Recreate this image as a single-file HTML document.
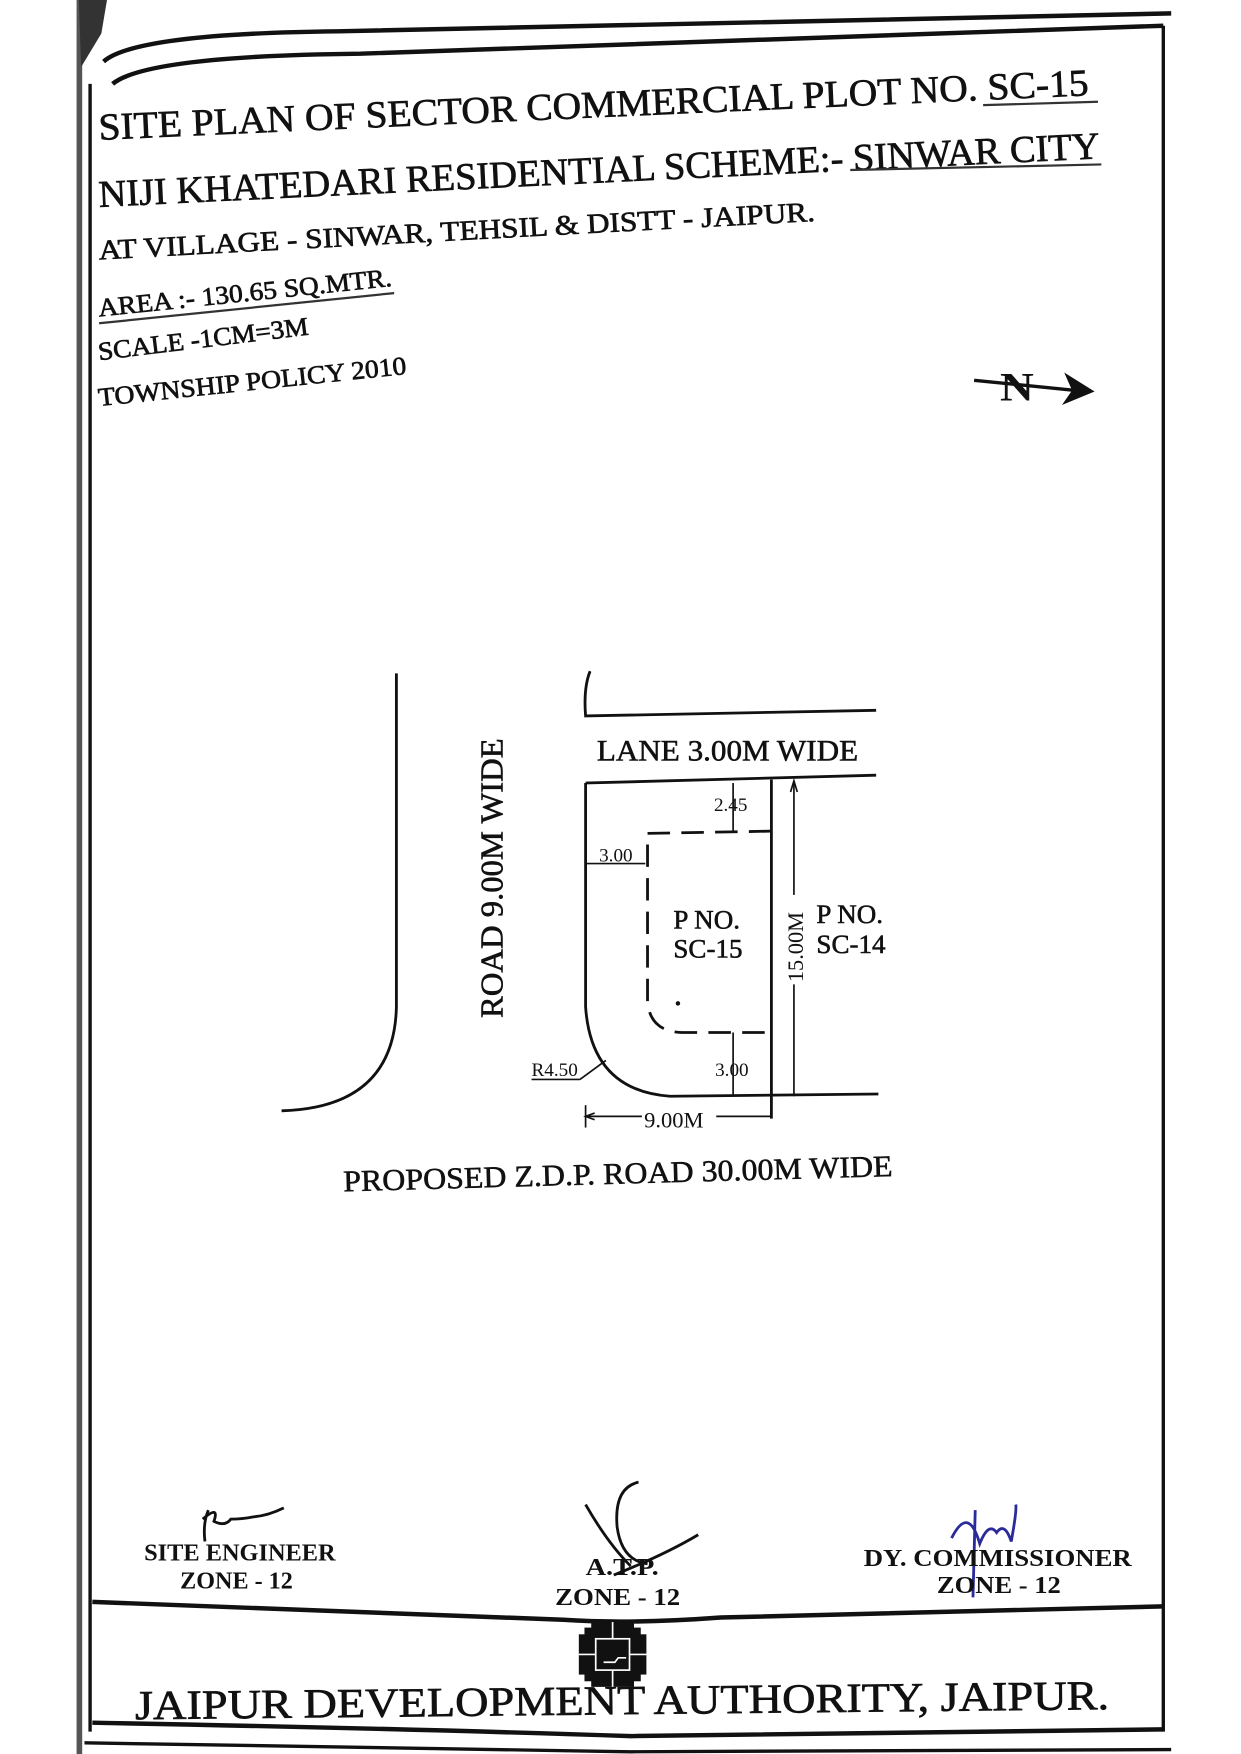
<!DOCTYPE html>
<html><head><meta charset="utf-8"><style>
html,body{margin:0;padding:0;background:#fff;}
svg{display:block;}
text{font-family:"Liberation Serif",serif;fill:#111;}
</style></head><body>
<svg width="1241" height="1754" viewBox="0 0 1102 1568" preserveAspectRatio="none" xmlns="http://www.w3.org/2000/svg">
<rect width="1102" height="1568" fill="#fff"/>
<rect x="68" y="0" width="5" height="1568" fill="#555"/>
<path d="M70 0 L95 0 L90 30 L72 60 Z" fill="#333"/>
<path d="M92 55 Q120 30 300 28 L1040 12" fill="none" stroke="#111" stroke-width="4"/>
<path d="M100 75 Q130 50 320 48 L1033 23" fill="none" stroke="#111" stroke-width="4"/>
<line x1="80" y1="75" x2="80" y2="1548" stroke="#111" stroke-width="3"/>
<line x1="1033" y1="23" x2="1033" y2="1548" stroke="#111" stroke-width="3"/>
<path d="M82 1432 Q300 1440 500 1448 Q560 1452 640 1446 L1033 1436" fill="none" stroke="#111" stroke-width="4"/>
<path d="M82 1540 Q350 1545 560 1552 L1033 1546" fill="none" stroke="#111" stroke-width="4"/>
<path d="M75 1558 Q300 1562 560 1566 L1040 1564" fill="none" stroke="#111" stroke-width="3"/>

<g stroke="#111" stroke-width="0.6">
<g transform="rotate(-2.6 88 125)"><text x="88" y="125" font-size="34" textLength="880" lengthAdjust="spacingAndGlyphs">SITE PLAN OF SECTOR COMMERCIAL PLOT NO.  SC-15</text></g>
<g transform="rotate(-2.8 88 185)"><text x="88" y="185" font-size="34" textLength="890" lengthAdjust="spacingAndGlyphs">NIJI KHATEDARI RESIDENTIAL SCHEME:- SINWAR CITY</text></g>
<g transform="rotate(-3.1 88 232)"><text x="88" y="232" font-size="25" textLength="637" lengthAdjust="spacingAndGlyphs">AT VILLAGE - SINWAR, TEHSIL &amp; DISTT - JAIPUR.</text></g>
<g transform="rotate(-6 88 283)"><text x="88" y="283" font-size="23" textLength="262" lengthAdjust="spacingAndGlyphs">AREA :- 130.65 SQ.MTR.</text></g>
<g transform="rotate(-7 88 322)"><text x="88" y="322" font-size="23" textLength="188" lengthAdjust="spacingAndGlyphs">SCALE -1CM=3M</text></g>
<g transform="rotate(-6 88 363)"><text x="88" y="363" font-size="23" textLength="275" lengthAdjust="spacingAndGlyphs">TOWNSHIP POLICY 2010</text></g>
</g>
<line x1="873" y1="94" x2="975" y2="91" stroke="#333" stroke-width="2"/>
<line x1="755" y1="152" x2="978" y2="147" stroke="#333" stroke-width="2"/>
<line x1="88" y1="289" x2="350" y2="262" stroke="#333" stroke-width="2"/>
<text x="888" y="358" font-size="36" font-weight="bold" textLength="30" lengthAdjust="spacingAndGlyphs">N</text>
<line x1="865" y1="340" x2="955" y2="349" stroke="#111" stroke-width="3"/>
<path d="M945 333 L972 350 L943 362 L952 349 Z" fill="#111"/>

<g fill="none" stroke="#111" stroke-width="2.5">
<path d="M352 602 L352 900 Q350 990 250 993"/>
<path d="M524 600 Q518 615 520 640 L778 635"/>
<path d="M520 700 L778 693"/>
<path d="M520 700 L520 900 Q525 975 595 980 L780 978"/>
<line x1="685" y1="697" x2="685" y2="1000"/>
<g stroke-width="1.5">
<line x1="705" y1="698" x2="705" y2="800"/>
<line x1="705" y1="880" x2="705" y2="980"/>
<path d="M702 708 L705 698 L708 708"/>
<line x1="651" y1="700" x2="651" y2="743"/>
<line x1="651" y1="923" x2="651" y2="980"/>
<line x1="520" y1="772" x2="573" y2="772"/>
<line x1="472" y1="965" x2="515" y2="965"/>
<line x1="515" y1="965" x2="538" y2="948"/>
<line x1="520" y1="988" x2="520" y2="1008"/>
<line x1="520" y1="998" x2="570" y2="998"/>
<line x1="636" y1="998" x2="685" y2="998"/>
<path d="M528 995 L520 998 L528 1001"/>
</g>
<g stroke-width="2.5" stroke-dasharray="20 10">
<path d="M685 743 L575 745 L575 895 Q577 922 605 923 L685 923"/>
</g>
</g>
<circle cx="602" cy="897" r="2" fill="#111"/>
<g stroke="#111" stroke-width="0.5">
<text x="530" y="680" font-size="26" textLength="232" lengthAdjust="spacingAndGlyphs">LANE 3.00M WIDE</text>
<text x="598" y="830" font-size="24">P NO.</text>
<text x="598" y="856" font-size="24">SC-15</text>
<text x="725" y="825" font-size="24">P NO.</text>
<text x="725" y="852" font-size="24">SC-14</text>
<g transform="translate(446 910) rotate(-90)"><text x="0" y="0" font-size="28" textLength="250" lengthAdjust="spacingAndGlyphs">ROAD 9.00M WIDE</text></g>
<g transform="rotate(-1.6 305 1065)"><text x="305" y="1065" font-size="27" textLength="488" lengthAdjust="spacingAndGlyphs">PROPOSED Z.D.P. ROAD 30.00M WIDE</text></g>
</g>
<text x="634" y="725" font-size="17">2.45</text>
<text x="532" y="770" font-size="17">3.00</text>
<text x="635" y="962" font-size="17">3.00</text>
<text x="472" y="962" font-size="17">R4.50</text>
<text x="572" y="1008" font-size="20">9.00M</text>
<g transform="translate(713 878) rotate(-90)"><text x="0" y="0" font-size="20">15.00M</text></g>

<g fill="none" stroke="#111" stroke-width="2.5">
<path d="M185 1350 Q180 1362 182 1378 M180 1358 Q195 1345 190 1360 Q200 1365 205 1358 Q215 1358 225 1356 Q238 1355 252 1348"/>
<path d="M567 1325 Q545 1330 548 1365 Q552 1395 575 1398 M520 1345 Q540 1380 560 1400 M545 1408 Q590 1390 620 1372"/>
</g>
<path d="M845 1375 Q860 1345 870 1380 Q878 1360 885 1370 Q892 1360 898 1378 Q903 1350 902 1345 M866 1350 L864 1428" fill="none" stroke="#2a2a9a" stroke-width="2.5"/>
<g font-weight="bold">
<text x="128" y="1395" font-size="22" textLength="170" lengthAdjust="spacingAndGlyphs">SITE ENGINEER</text>
<text x="160" y="1420" font-size="22" textLength="100" lengthAdjust="spacingAndGlyphs">ZONE - 12</text>
<text x="520" y="1408" font-size="22" textLength="65" lengthAdjust="spacingAndGlyphs">A.T.P.</text>
<text x="493" y="1435" font-size="22" textLength="111" lengthAdjust="spacingAndGlyphs">ZONE - 12</text>
<text x="767" y="1400" font-size="22" textLength="238" lengthAdjust="spacingAndGlyphs">DY. COMMISSIONER</text>
<text x="832" y="1424" font-size="22" textLength="110" lengthAdjust="spacingAndGlyphs">ZONE - 12</text>
</g>

<g fill="#111">
<rect x="525" y="1450" width="38" height="58"/>
<rect x="514" y="1461" width="60" height="36"/>
<rect x="519" y="1455" width="50" height="48"/>
</g>
<g fill="none" stroke="#fff" stroke-width="1.5">
<rect x="529" y="1465" width="30" height="28"/>
<line x1="544" y1="1450" x2="544" y2="1465"/>
<line x1="544" y1="1493" x2="544" y2="1508"/>
<line x1="514" y1="1479" x2="529" y2="1479"/>
<line x1="559" y1="1479" x2="574" y2="1479"/>
<path d="M536 1486 L546 1486 L549 1482 L556 1482"/>
</g>
<g transform="rotate(-0.6 120 1535)"><text x="120" y="1537" font-size="37" stroke="#111" stroke-width="0.6" textLength="865" lengthAdjust="spacingAndGlyphs">JAIPUR DEVELOPMENT AUTHORITY, JAIPUR.</text></g>
</svg>
</body></html>
